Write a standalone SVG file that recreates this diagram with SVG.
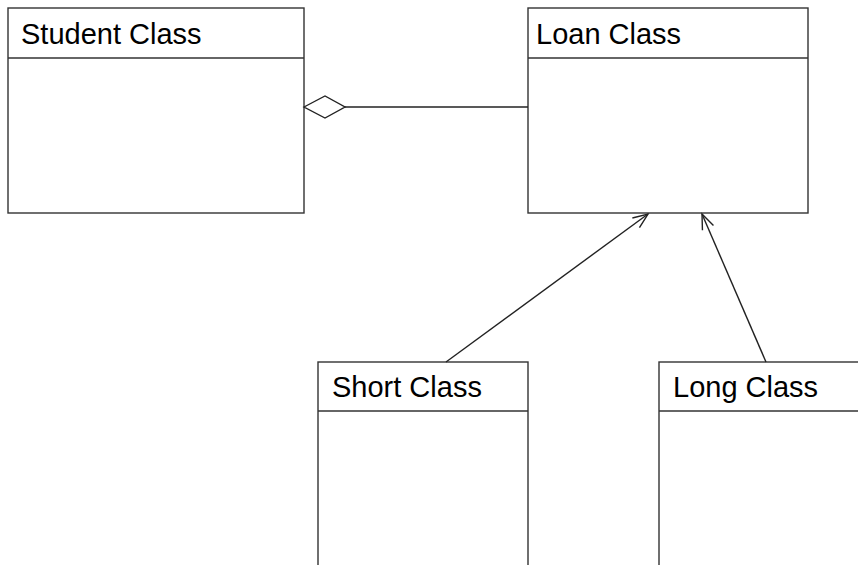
<svg xmlns="http://www.w3.org/2000/svg" width="858" height="565" viewBox="0 0 858 565">
<defs>
<style>
.box{fill:#fff;stroke:#333;stroke-width:1.4}
.sep{stroke:#333;stroke-width:1.4}
.lbl{font-family:"Liberation Sans",Arial,sans-serif;font-size:29px;fill:#000}
.conn{stroke:#222;stroke-width:1.4;fill:none}
</style>
<marker id="open" markerWidth="20" markerHeight="20" refX="16" refY="8" orient="auto" markerUnits="userSpaceOnUse" viewBox="0 0 20 16">
<path d="M1,2 L16,8 L1,14" fill="none" stroke="#222" stroke-width="1.4"/>
</marker>
</defs>
<rect width="858" height="565" fill="#fff"/>
<g id="student">
<rect class="box" x="8" y="8" width="296" height="205"/>
<line class="sep" x1="8" y1="58" x2="304" y2="58"/>
<text class="lbl" x="21" y="44">Student Class</text>
</g>
<g id="loan">
<rect class="box" x="528" y="8" width="280" height="205"/>
<line class="sep" x1="528" y1="58" x2="808" y2="58"/>
<text class="lbl" x="536" y="44">Loan Class</text>
</g>
<g id="short">
<rect class="box" x="318" y="362" width="210" height="220"/>
<line class="sep" x1="318" y1="411" x2="528" y2="411"/>
<text class="lbl" x="332" y="397">Short Class</text>
</g>
<g id="long">
<rect class="box" x="659" y="362" width="220" height="220"/>
<line class="sep" x1="659" y1="411" x2="879" y2="411"/>
<text class="lbl" x="673" y="397">Long Class</text>
</g>
<g id="connectors">
<polygon class="conn" points="304,107 325,96 345,107 325,118" fill="#fff"/>
<line class="conn" x1="345" y1="107" x2="528" y2="107"/>
<line class="conn" x1="446" y1="362" x2="648" y2="214" marker-end="url(#open)"/>
<line class="conn" x1="766" y1="362" x2="702" y2="214" marker-end="url(#open)"/>
</g>
</svg>
